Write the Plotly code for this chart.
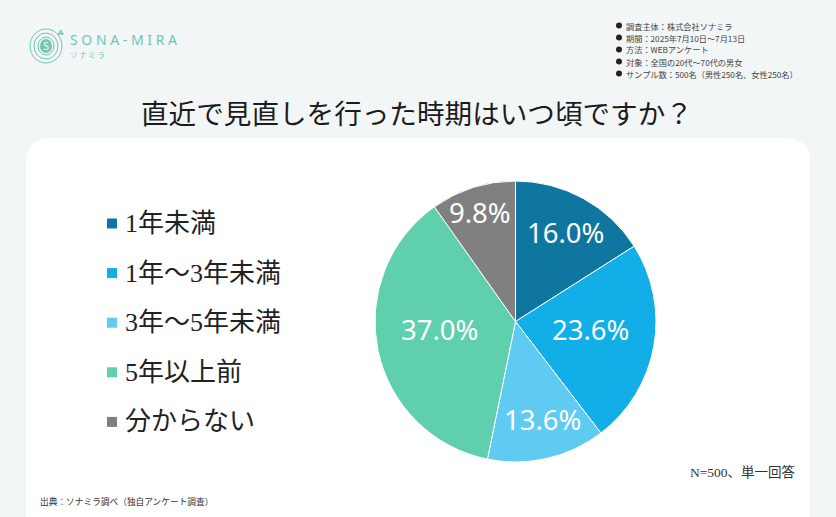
import plotly.graph_objects as go

W, H = 836, 517

labels = ["1年未満", "1年\uff5e3年未満", "3年\uff5e5年未満", "5年以上前", "分からない"]
values = [16.0, 23.6, 13.6, 37.0, 9.8]
colors = ["#0f76a0", "#12aee8", "#5fcbf3", "#5fcfae", "#808080"]

notes = [
    "調査主体\uff1a株式会社ソナミラ",
    "期間\uff1a2025年7月10日\uff5e7月13日",
    "方法\uff1aWEBアンケート",
    "対象\uff1a全国の20代\uff5e70代の男女",
    "サンプル数\uff1a500名\uff08男性250名、女性250名\uff09",
]
title = "直近で見直しを行った時期はいつ頃ですか\uff1f"
source = "出典\uff1aソナミラ調べ\uff08独自アンケート調査\uff09"
sample = "N=500、単一回答"

SANS = "Noto Sans CJK JP"
SERIF = "Liberation Serif, Noto Sans CJK JP"
LOGO = "#6fc7b2"

# pie geometry in page pixels, and where each percent label sits
CX, CY, R = 515.5, 321.5, 140.5
label_x = [565, 590, 542, 439, 480]
label_y = [233, 329, 419, 329, 212]


def px(x):
    return x / W


def py(y):
    return 1 - y / H


def text(x, y, s, size, color="#222222", anchor="left", family=SANS, **kw):
    return dict(x=px(x), y=py(y), xref="paper", yref="paper", text=s, showarrow=False,
                xanchor=anchor, yanchor="middle", font=dict(size=size, color=color, family=family), **kw)


fig = go.Figure(go.Pie(
    labels=labels, values=values, sort=False, direction="clockwise", rotation=0,
    marker=dict(colors=colors, line=dict(color="white", width=1)),
    textinfo="none",
    domain=dict(x=[px(CX - R), px(CX + R)], y=[py(CY + R), py(CY - R)]),
    showlegend=False,
))

shapes = []
annotations = []

# white card with rounded top corners
shapes.append(dict(type="path", xref="paper", yref="paper", layer="below", line_width=0, fillcolor="white",
                   path=f"M {px(26)} {py(517)} L {px(26)} {py(162)} Q {px(26)} {py(138)} {px(50)} {py(138)} "
                        f"L {px(786)} {py(138)} Q {px(810)} {py(138)} {px(810)} {py(162)} L {px(810)} {py(517)} Z"))

annotations.append(text(417, 114, title, 27.6, color="#1c1c1c", anchor="center", family=SERIF))

# percent labels
for v, lx, ly in zip(values, label_x, label_y):
    annotations.append(text(lx, ly, f"{v:.1f}%", 27.5, color="white", anchor="center", family="Noto Sans"))

# legend
for i, (lab, col) in enumerate(zip(labels, colors)):
    y = 223.5 + i * 49.6
    shapes.append(dict(type="rect", xref="paper", yref="paper", line_width=0, fillcolor=col,
                       x0=px(107), x1=px(117), y0=py(y + 5), y1=py(y - 5)))
    annotations.append(text(123, y, lab, 26, color="#222222", family=SERIF))

# survey notes
for i, n in enumerate(notes):
    y = 25.5 + i * 12
    shapes.append(dict(type="circle", xref="paper", yref="paper", line_width=0, fillcolor="#222222",
                       x0=px(616), x1=px(622), y0=py(y + 3), y1=py(y - 3)))
    annotations.append(text(624, y, n, 8.2, color="#444444"))

annotations.append(text(38, 501, source, 8.7, color="#333333"))
annotations.append(text(798, 472, sample, 13.5, color="#333333", anchor="right", family=SERIF))

# logo
for rx, ry in [(16, 17), (12, 13), (8, 9)]:
    shapes.append(dict(type="circle", xref="paper", yref="paper", line=dict(color=LOGO, width=1),
                       x0=px(46 - rx), x1=px(46 + rx), y0=py(46 + ry), y1=py(46 - ry)))
shapes.append(dict(type="circle", xref="paper", yref="paper", line_width=0, fillcolor=LOGO,
                   x0=px(40), x1=px(52), y0=py(53), y1=py(39)))
annotations.append(text(46, 46, "S", 10, color="white", anchor="center"))
annotations.append(text(60, 32, "☘", 8, color=LOGO, anchor="center"))
annotations.append(text(68, 40, "S O N A - M I R A", 14, color=LOGO, family="Noto Sans"))
annotations.append(text(68, 54, "ソ ナ ミ ラ", 7.5, color=LOGO))

fig.update_layout(
    width=W, height=H, margin=dict(l=0, r=0, t=0, b=0),
    paper_bgcolor="#f3f6f6", plot_bgcolor="#f3f6f6",
    shapes=shapes, annotations=annotations,
)
# page body margin would push the figure off by 8px
fig.write_html("out.html", config={"displayModeBar": False},
               post_script="document.body.style.margin='0';document.body.style.overflow='hidden';")
